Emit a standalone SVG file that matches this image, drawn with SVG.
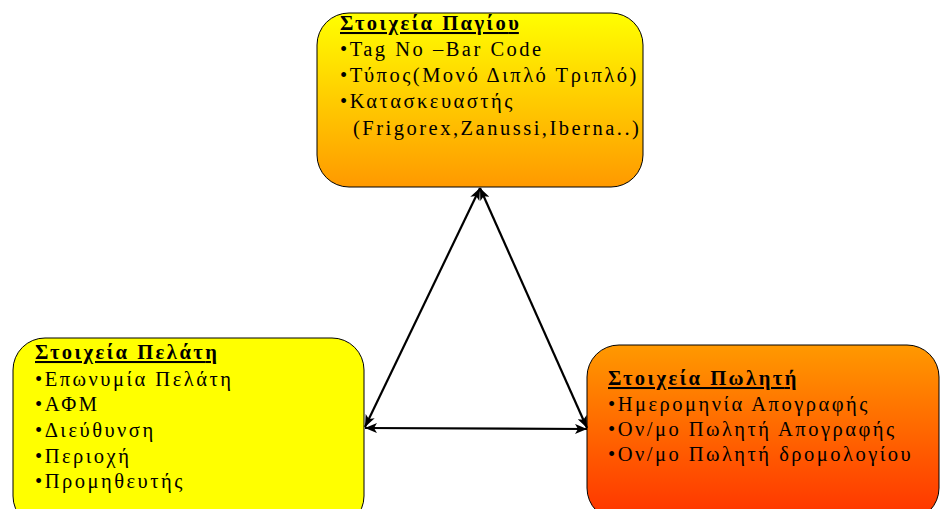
<svg xmlns="http://www.w3.org/2000/svg" width="940" height="509" viewBox="0 0 940 509">
  <defs>
    <linearGradient id="gradAsset" x1="0" y1="0" x2="0" y2="1">
      <stop offset="0" stop-color="#FFFF00"/>
      <stop offset="1" stop-color="#FF9900"/>
    </linearGradient>
    <linearGradient id="gradSeller" x1="0" y1="0" x2="0" y2="1">
      <stop offset="0" stop-color="#FF9900"/>
      <stop offset="1" stop-color="#FF3300"/>
    </linearGradient>
    <marker id="head" viewBox="0 0 12 10" refX="12" refY="5" markerWidth="12" markerHeight="10" markerUnits="userSpaceOnUse" orient="auto-start-reverse">
      <path d="M0,0 L12,5 L0,10 L3,5 Z" fill="#000"/>
    </marker>
  </defs>
  <style>
    .box { stroke: #000; stroke-width: 1; }
    .txt { font-family: "Liberation Serif", "Times New Roman", serif; font-size: 20.5px; letter-spacing: 2.5px; fill: #000; }
    .title { font-weight: bold; text-decoration: underline; }
    .last { letter-spacing: 0; }
    .link { fill: none; stroke: #000; stroke-width: 2.2; marker-start: url(#head); marker-end: url(#head); }
  </style>

  <rect width="940" height="509" fill="#fff"/>

  <!-- asset details -->
  <g id="asset">
    <rect class="box" x="317" y="13" width="326" height="174" rx="32" ry="32" fill="url(#gradAsset)"/>
    <text class="txt">
      <tspan class="title" x="340" y="30">Στοιχεία Παγίο<tspan class="last">υ</tspan></tspan>
      <tspan x="340" y="56">•Tag No –Bar Code</tspan>
      <tspan x="340" y="82">•Τύπος(Μονό Διπλό Τριπλό)</tspan>
      <tspan x="340" y="108">•Κατασκευαστής</tspan>
      <tspan x="353" y="135">(Frigorex,Zanussi,Iberna..)</tspan>
    </text>
  </g>

  <!-- customer details -->
  <g id="customer">
    <rect class="box" x="13" y="338" width="351" height="190" rx="32" ry="32" fill="#FFFF00"/>
    <text class="txt">
      <tspan class="title" x="35" y="359">Στοιχεία Πελάτ<tspan class="last">η</tspan></tspan>
      <tspan x="35" y="386">•Επωνυμία Πελάτη</tspan>
      <tspan x="35" y="411">•ΑΦΜ</tspan>
      <tspan x="35" y="437">•Διεύθυνση</tspan>
      <tspan x="35" y="463">•Περιοχή</tspan>
      <tspan x="35" y="488">•Προμηθευτής</tspan>
    </text>
  </g>

  <!-- seller details -->
  <g id="seller">
    <rect class="box" x="587" y="345" width="352" height="175" rx="32" ry="32" fill="url(#gradSeller)"/>
    <text class="txt">
      <tspan class="title" x="608" y="385">Στοιχεία Πωλητ<tspan class="last">ή</tspan></tspan>
      <tspan x="608" y="411">•Ημερομηνία Απογραφής</tspan>
      <tspan x="608" y="436">•Ον/μο Πωλητή Απογραφής</tspan>
      <tspan x="608" y="461">•Ον/μο Πωλητή δρομολογίου</tspan>
    </text>
  </g>

  <!-- two-way links between the three record groups -->
  <g id="connectors">
    <line class="link" x1="480" y1="188" x2="365" y2="427"/>
    <line class="link" x1="480" y1="188" x2="587" y2="428"/>
    <line class="link" x1="365" y1="428" x2="587" y2="429"/>
  </g>
</svg>
